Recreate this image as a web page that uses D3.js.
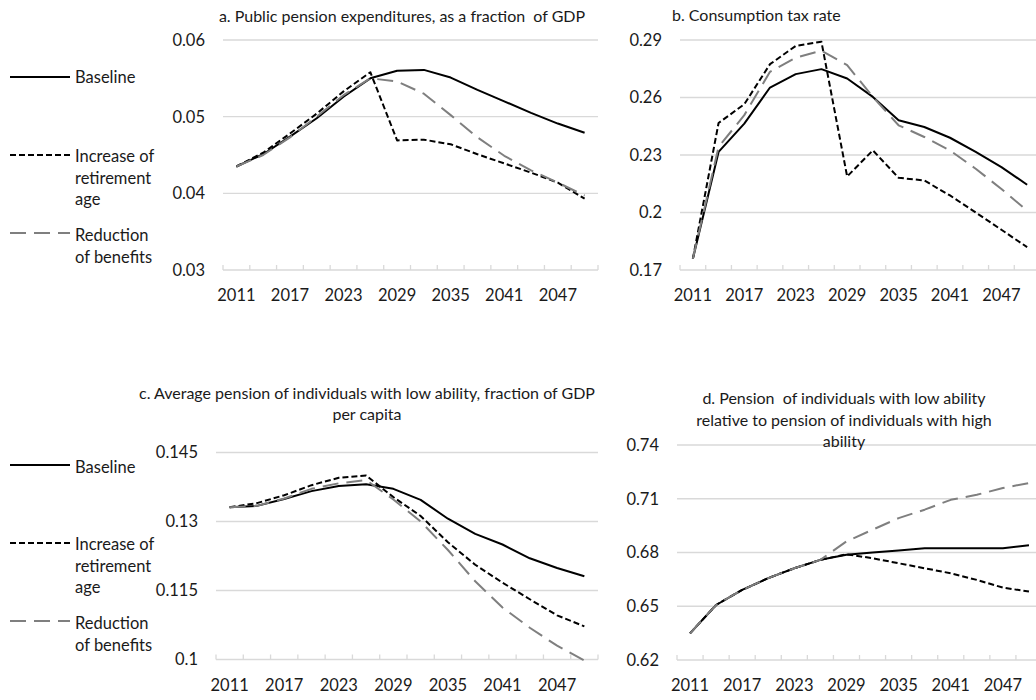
<!DOCTYPE html>
<html>
<head>
<meta charset="utf-8">
<script src="https://cdn.jsdelivr.net/npm/d3@7"></script>
<style>
  body { margin: 0; background: #fff; }
  svg { display: block; font-family: Lato, "Open Sans", sans-serif; }
  text { white-space: pre; }
</style>
</head>
<body>
<svg id="chart" width="1036" height="700"></svg>
<script>
// Simulation years (every third year) and the subset that gets a label
const years = [2011, 2014, 2017, 2020, 2023, 2026, 2029, 2032, 2035, 2038, 2041, 2044, 2047, 2050];
const yearLabels = [2011, 2017, 2023, 2029, 2035, 2041, 2047];

// Legend entries (wrapped text lines)
const legendLines = [["Baseline"], ["Increase of", "retirement", "age"], ["Reduction", "of benefits"]];

// a. Public pension expenditures, fraction of GDP
const pensionTicks = [0.03, 0.04, 0.05, 0.06];
const pensionBaseline   = [0.0435, 0.0451, 0.0474, 0.0498, 0.0526, 0.0550, 0.0560, 0.0561, 0.0551, 0.0535, 0.0520, 0.0505, 0.0491, 0.0479];
const pensionRetirement = [0.0435, 0.0453, 0.0478, 0.0504, 0.0533, 0.0558, 0.0469, 0.0470, 0.0464, 0.0451, 0.0439, 0.0427, 0.0414, 0.0393];
const pensionBenefits   = [0.0435, 0.0450, 0.0473, 0.0500, 0.0528, 0.0550, 0.0546, 0.0530, 0.0502, 0.0473, 0.0449, 0.0430, 0.0414, 0.0397];

// b. Consumption tax rate
const taxTicks = [0.17, 0.2, 0.23, 0.26, 0.29];
const taxBaseline   = [0.1758, 0.2316, 0.2464, 0.2652, 0.2722, 0.2748, 0.2699, 0.2603, 0.2481, 0.2446, 0.2390, 0.2316, 0.2237, 0.2145];
const taxRetirement = [0.1758, 0.2467, 0.2565, 0.2774, 0.2869, 0.2891, 0.2188, 0.2324, 0.2181, 0.2167, 0.2089, 0.2000, 0.1910, 0.1819];
const taxBenefits   = [0.1758, 0.2342, 0.2508, 0.2734, 0.2808, 0.2844, 0.2769, 0.2603, 0.2455, 0.2394, 0.2324, 0.2228, 0.2123, 0.2009];

// c. Average pension of low-ability individuals, fraction of GDP per capita
const lowPensionTicks = [0.1, 0.115, 0.13, 0.145];
const lowPensionBaseline   = [0.1331, 0.1334, 0.1349, 0.1366, 0.1377, 0.1381, 0.1371, 0.1347, 0.1306, 0.1273, 0.1250, 0.1220, 0.1199, 0.1181];
const lowPensionRetirement = [0.1331, 0.1340, 0.1357, 0.1379, 0.1395, 0.1400, 0.1353, 0.1312, 0.1255, 0.1206, 0.1167, 0.1131, 0.1096, 0.1072];
const lowPensionBenefits   = [0.1331, 0.1334, 0.1350, 0.1371, 0.1383, 0.1390, 0.1348, 0.1300, 0.1238, 0.1170, 0.1113, 0.1069, 0.1030, 0.0998];

// d. Low-ability pension relative to high-ability pension
const ratioTicks = [0.62, 0.65, 0.68, 0.71, 0.74];
const ratioBaseline   = [0.6349, 0.6507, 0.6591, 0.6657, 0.6712, 0.6759, 0.6787, 0.6800, 0.6811, 0.6824, 0.6824, 0.6824, 0.6824, 0.6841];
const ratioRetirement = [0.6349, 0.6507, 0.6591, 0.6657, 0.6712, 0.6759, 0.6790, 0.6768, 0.6740, 0.6712, 0.6684, 0.6647, 0.6604, 0.6582];
const ratioBenefits   = [0.6349, 0.6507, 0.6591, 0.6657, 0.6712, 0.6759, 0.6862, 0.6927, 0.6992, 0.7039, 0.7094, 0.7122, 0.7160, 0.7188];

// Line styles for the three scenarios
const styles = [
  { stroke: "#000000", dash: null },
  { stroke: "#000000", dash: "6,3" },
  { stroke: "#7f7f7f", dash: "16,8" }
];

const svg = d3.select("#chart");
const gridColor = "#d9d9d9";
const textColor = "#1a1a1a";

function drawPanel(p) {
  const g = svg.append("g");
  const x = d3.scaleBand().domain(years).range(p.xRange).padding(0);
  const bw = x.bandwidth();
  const y = d3.scaleLinear().domain([p.ticks[0], p.ticks[p.ticks.length - 1]]).range(p.yRange);

  // horizontal gridlines
  g.selectAll(".grid").data(p.ticks.slice(1)).join("line")
    .attr("x1", p.xRange[0]).attr("x2", p.xRange[1])
    .attr("y1", d => y(d)).attr("y2", d => y(d))
    .attr("stroke", gridColor).attr("stroke-width", 1.3);

  // category axis with tick marks at the band edges
  const y0 = y(p.ticks[0]);
  g.append("line")
    .attr("x1", p.xRange[0]).attr("x2", p.xRange[1])
    .attr("y1", y0).attr("y2", y0)
    .attr("stroke", gridColor).attr("stroke-width", 1.3);
  const edges = years.map(d => x(d)).concat([x(years[years.length - 1]) + bw]);
  g.selectAll(".tick").data(edges).join("line")
    .attr("x1", d => d).attr("x2", d => d)
    .attr("y1", y0).attr("y2", y0 - 5)
    .attr("stroke", gridColor).attr("stroke-width", 1.3);

  // y tick labels
  g.selectAll(".ylab").data(p.ticks).join("text")
    .attr("x", p.yLabelX).attr("y", d => y(d)).attr("dy", "0.36em")
    .attr("text-anchor", "end").attr("font-size", 16.5).attr("fill", textColor)
    .text(d => String(d));

  // x tick labels
  g.selectAll(".xlab").data(yearLabels).join("text")
    .attr("x", d => x(d) + bw / 2).attr("y", p.xLabelY)
    .attr("text-anchor", "middle").attr("font-size", 16.5).attr("fill", textColor)
    .text(d => String(d));

  // scenario lines
  const line = d3.line().x((d, i) => x(years[i]) + bw / 2).y(d => y(d));
  p.series.forEach((s, k) => {
    g.append("path").datum(s)
      .attr("d", line)
      .attr("fill", "none")
      .attr("stroke", styles[k].stroke)
      .attr("stroke-width", 2)
      .attr("stroke-dasharray", styles[k].dash)
      .attr("stroke-linejoin", "round");
  });

  // title
  const t = g.append("text")
    .attr("font-size", 16).attr("fill", textColor)
    .attr("text-anchor", p.titleAnchor);
  p.title.forEach((ln, i) => {
    t.append("tspan").attr("x", p.titleX).attr("y", p.titleY + i * p.titleStep).text(ln);
  });

  // legend
  if (p.legend) {
    p.legend.forEach((L, k) => {
      g.append("line")
        .attr("x1", 10).attr("x2", 70).attr("y1", L.lineY).attr("y2", L.lineY)
        .attr("stroke", styles[k].stroke).attr("stroke-width", 2)
        .attr("stroke-dasharray", styles[k].dash);
      legendLines[k].forEach((txt, j) => {
        g.append("text")
          .attr("x", 75).attr("y", L.textY + j * 21.5)
          .attr("font-size", 16.5).attr("fill", textColor)
          .text(txt);
      });
    });
  }
}

drawPanel({
  ticks: pensionTicks, series: [pensionBaseline, pensionRetirement, pensionBenefits],
  xRange: [223, 598], yRange: [270, 40], yLabelX: 205, xLabelY: 301,
  title: ["a. Public pension expenditures, as a fraction  of GDP"],
  titleX: 402, titleY: 22, titleStep: 21.5, titleAnchor: "middle",
  legend: [{ lineY: 77, textY: 83 }, { lineY: 155, textY: 162 }, { lineY: 233, textY: 241 }]
});

drawPanel({
  ticks: taxTicks, series: [taxBaseline, taxRetirement, taxBenefits],
  xRange: [680, 1040], yRange: [270, 40], yLabelX: 662, xLabelY: 301,
  title: ["b. Consumption tax rate"],
  titleX: 672, titleY: 21, titleStep: 21.5, titleAnchor: "start",
  legend: null
});

drawPanel({
  ticks: lowPensionTicks, series: [lowPensionBaseline, lowPensionRetirement, lowPensionBenefits],
  xRange: [216, 598], yRange: [659.5, 452.5], yLabelX: 198, xLabelY: 691,
  title: ["c. Average pension of individuals with low ability, fraction of GDP", "per capita"],
  titleX: 367, titleY: 399, titleStep: 20.5, titleAnchor: "middle",
  legend: [{ lineY: 465, textY: 473 }, { lineY: 543, textY: 550 }, { lineY: 621, textY: 629 }]
});

drawPanel({
  ticks: ratioTicks, series: [ratioBaseline, ratioRetirement, ratioBenefits],
  xRange: [677, 1042], yRange: [660, 445], yLabelX: 659, xLabelY: 691,
  title: ["d. Pension  of individuals with low ability", "relative to pension of individuals with high", "ability"],
  titleX: 844, titleY: 404, titleStep: 21.7, titleAnchor: "middle",
  legend: null
});
</script>
</body>
</html>
